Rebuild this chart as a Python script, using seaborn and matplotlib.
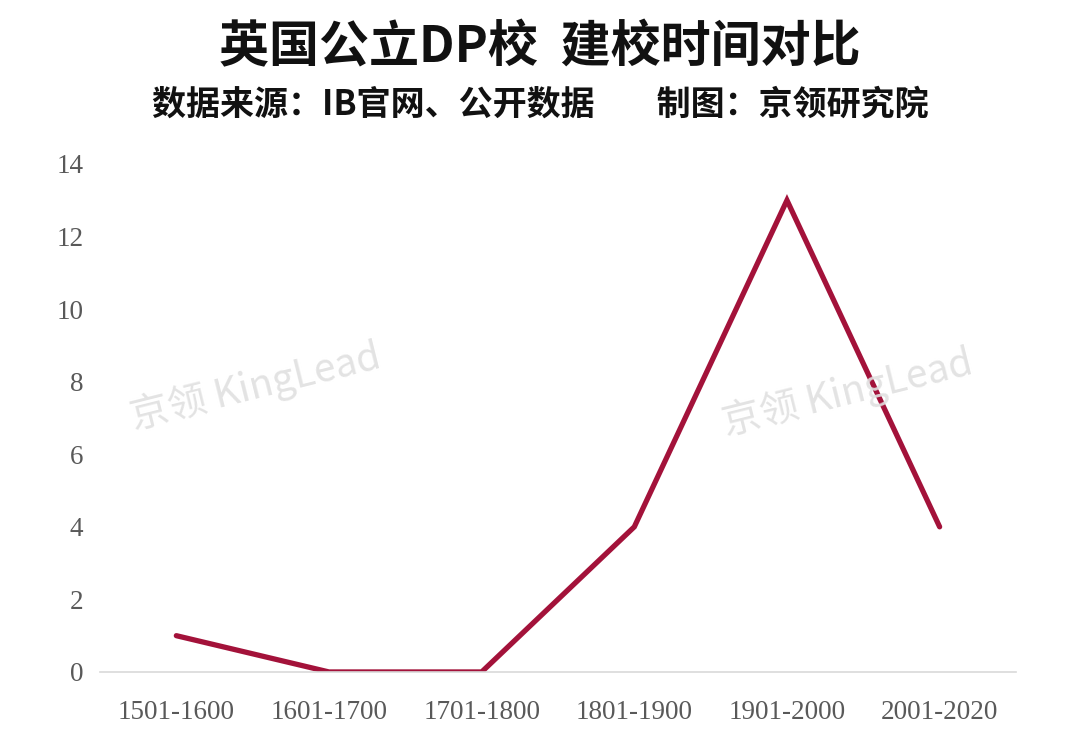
import matplotlib
matplotlib.use("Agg")
import matplotlib.pyplot as plt
import seaborn as sns
import pandas as pd

periods = ["1501-1600", "1601-1700", "1701-1800", "1801-1900", "1901-2000", "2001-2020"]
counts = [1, 0, 0, 4, 13, 4]
yticks = [0, 2, 4, 6, 8, 10, 12, 14]

title = "英国公立DP校  建校时间对比"
subtitle = "数据来源：IB官网、公开数据        制图：京领研究院"
watermark = "京领 KingLead"

sns.set_theme(style="white")
plt.rcParams['font.family'] = ['Noto Sans CJK SC', 'DejaVu Sans']

df = pd.DataFrame({"period": periods, "count": counts})

fig = plt.figure(figsize=(10.8, 7.54), dpi=100)
ax = fig.add_axes([0.0926, 0.1088, 0.8481, 0.6737])

sns.lineplot(data=df, x="period", y="count", ax=ax, color="#A3123A",
             linewidth=3.8, sort=False, solid_capstyle="round", solid_joinstyle="miter")

ax.set_xlim(-0.5, 5.5)
ax.set_ylim(0, 14)
ax.set_yticks(yticks)
ax.set_xlabel("")
ax.set_ylabel("")
for s in ["top", "right", "left"]:
    ax.spines[s].set_visible(False)
ax.spines["bottom"].set_color("#d9d9d9")
ax.spines["bottom"].set_linewidth(1.2)
ax.tick_params(axis="x", length=0, labelcolor="#595959", pad=20)
ax.tick_params(axis="y", length=0, labelcolor="#595959", pad=12)
for lab in ax.get_xticklabels() + ax.get_yticklabels():
    lab.set_fontfamily("Liberation Serif")
    lab.set_fontsize(19.5)
ax.grid(False)

fig.text(0.5, 0.937, title, ha="center", va="center", fontsize=36, fontweight="bold", color="#111111")
fig.text(0.5, 0.862, subtitle, ha="center", va="center", fontsize=24.5, fontweight="semibold", color="#111111")

fig.text(0.236, 0.487, watermark, ha="center", va="center", fontsize=28, color="#e0e0e0",
         rotation=14, alpha=0.9, fontweight="light", zorder=10)
fig.text(0.785, 0.48, watermark, ha="center", va="center", fontsize=28, color="#e0e0e0",
         rotation=14, alpha=0.9, fontweight="light", zorder=10)

fig.savefig("out.png", dpi=100, facecolor="white")
